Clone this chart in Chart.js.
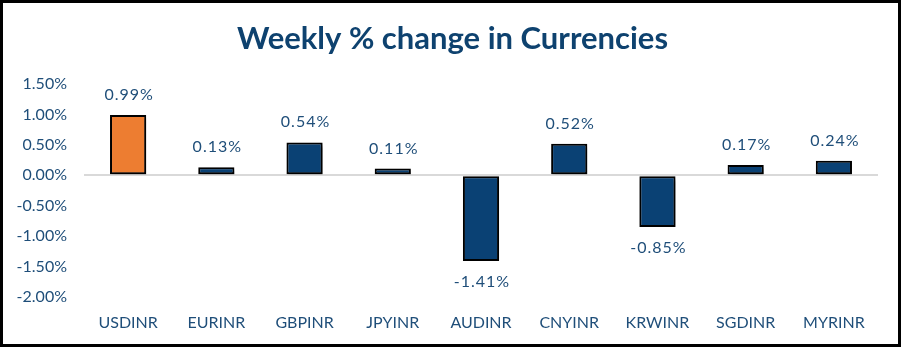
<!DOCTYPE html>
<html>
<head>
<meta charset="utf-8">
<script src="https://cdn.jsdelivr.net/npm/chart.js@4.4.1/dist/chart.umd.min.js"></script>
<style>
  html, body { margin: 0; padding: 0; background: #ffffff; }
  #wrap { width: 901px; height: 347px; box-sizing: border-box; border: 3px solid #000; background: #fff; position: relative; }
  #wrap canvas { display: block; }
</style>
</head>
<body>
<div id="wrap"><canvas id="c" width="895" height="341"></canvas></div>
<script>
const titleText = 'Weekly % change in Currencies';
const categories = ['USDINR', 'EURINR', 'GBPINR', 'JPYINR', 'AUDINR', 'CNYINR', 'KRWINR', 'SGDINR', 'MYRINR'];
const weeklyChange = [0.99, 0.13, 0.54, 0.11, -1.41, 0.52, -0.85, 0.17, 0.24];
const highlighted = ['USDINR'];
const yTicks = [1.5, 1.0, 0.5, 0.0, -0.5, -1.0, -1.5, -2.0];

const FONT = 'Lato, "Open Sans", sans-serif';
const NAVY = '#0A4174';
const ORANGE = '#ED7D31';
const TEXT = '#1F4E79';

const barColors = categories.map(c => highlighted.includes(c) ? ORANGE : NAVY);

const titlePlugin = {
  id: 'customTitle',
  afterDraw(chart) {
    const ctx = chart.ctx;
    ctx.save();
    ctx.font = 'bold 31px ' + FONT;
    ctx.fillStyle = '#0E426F';
    ctx.textAlign = 'center';
    ctx.textBaseline = 'middle';
    ctx.fillText(titleText, chart.width / 2 + 2, 36);
    ctx.restore();
  }
};

const shadowPlugin = {
  id: 'barShadow',
  beforeDatasetDraw(chart) {
    const ctx = chart.ctx;
    ctx.save();
    ctx.shadowColor = 'rgba(0,0,0,0.5)';
    ctx.shadowBlur = 4;
    ctx.shadowOffsetX = 2;
    ctx.shadowOffsetY = 3;
  },
  afterDatasetDraw(chart) {
    chart.ctx.restore();
  }
};

const labelPlugin = {
  id: 'valueLabels',
  afterDatasetsDraw(chart) {
    const ctx = chart.ctx;
    const meta = chart.getDatasetMeta(0);
    ctx.save();
    ctx.font = '16px ' + FONT;
    try { ctx.letterSpacing = '1px'; } catch (e) {}
    ctx.fillStyle = TEXT;
    ctx.textAlign = 'center';
    ctx.textBaseline = 'alphabetic';
    meta.data.forEach((bar, i) => {
      const v = weeklyChange[i];
      const txt = v.toFixed(2) + '%';
      if (v >= 0) {
        ctx.fillText(txt, bar.x + 1, bar.y - 15);
      } else {
        ctx.fillText(txt, bar.x + 1, bar.y + 26);
      }
    });
    ctx.restore();
  }
};

new Chart(document.getElementById('c'), {
  type: 'bar',
  data: {
    labels: categories,
    datasets: [{
      data: weeklyChange,
      backgroundColor: barColors,
      borderColor: '#000000',
      borderWidth: 2,
      borderSkipped: false,
      categoryPercentage: 1.0,
      barPercentage: 0.41
    }]
  },
  options: {
    responsive: false,
    animation: false,
    devicePixelRatio: 1,
    layout: { padding: { top: 81, right: 20, bottom: 0, left: 0 } },
    plugins: {
      legend: { display: false },
      title: { display: false },
      tooltip: { enabled: false }
    },
    scales: {
      x: {
        grid: { display: false },
        border: { display: false },
        ticks: { color: TEXT, font: { family: FONT, size: 16 }, padding: 8 },
        afterFit(scale) { scale.height = 47; }
      },
      y: {
        min: -2,
        max: 1.5,
        afterBuildTicks(scale) { scale.ticks = yTicks.map(v => ({ value: v })); },
        ticks: {
          color: TEXT,
          font: { family: FONT, size: 16 },
          padding: 17,
          callback: v => Number(v).toFixed(2) + '%'
        },
        grid: {
          drawTicks: false,
          lineWidth: 2,
          color: ctx => (ctx.tick && ctx.tick.value === 0) ? '#D9D9D9' : 'rgba(0,0,0,0)'
        },
        border: { display: false },
        afterFit(scale) { scale.width = 81; }
      }
    }
  },
  plugins: [titlePlugin, shadowPlugin, labelPlugin]
});
</script>
</body>
</html>
